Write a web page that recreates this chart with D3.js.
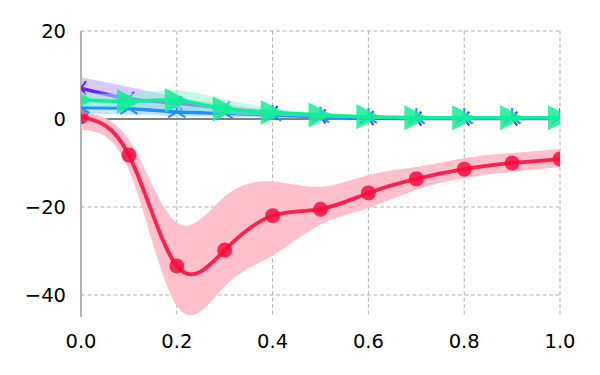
<!DOCTYPE html>
<html>
<head>
<meta charset="utf-8">
<script src="https://cdn.jsdelivr.net/npm/d3@7"></script>
<style>
	body { margin: 0; background: white; }
	text { font-family: "DejaVu Sans", sans-serif; }
</style>
</head>
<body>
<div id="chart"></div>
<script>
// Data
var xs = [0, 0.1, 0.2, 0.3, 0.4, 0.5, 0.6, 0.7, 0.8, 0.9, 1.0];
var xTicks = [0, 0.2, 0.4, 0.6, 0.8, 1.0];
var yTicks = [20, 0, -20, -40];

var redMean = [0.5, -8.2, -33.4, -29.8, -22, -20.5, -16.8, -13.6, -11.4, -10, -9.1];
var redHi = [1.5, -4.8, -23.6, -17.6, -14.2, -15.4, -12.7, -10.9, -8.9, -7.7, -6.8];
var redLo = [-2.5, -11.6, -42.5, -38, -31, -24, -20.2, -16.1, -13.4, -12, -10.9];

var purpleMean = [7.0, 4.6, 3.6, 2.4, 1.4, 0.6, 0.2, 0.1, 0.1, 0.1, 0.1];
var purpleHi = [9.5, 7.3, 5.0, 3.3, 2.0, 1.0, 0.5, 0.3, 0.3, 0.3, 0.3];
var purpleLo = [5.0, 3.0, 2.3, 1.5, 0.8, 0.2, -0.1, -0.1, -0.1, -0.1, -0.1];

var blueMean = [2.6, 2.4, 1.6, 1.3, 0.9, 0.5, 0.3, 0.2, 0.2, 0.2, 0.2];
var blueHi = [4.0, 3.6, 3.0, 2.2, 1.5, 0.9, 0.6, 0.5, 0.5, 0.5, 0.5];
var blueLo = [1.2, 1.0, 0.6, 0.5, 0.3, 0.1, 0.0, -0.1, -0.1, -0.1, -0.1];

var greenMean = [4.3, 4.0, 4.2, 2.3, 1.5, 0.9, 0.5, 0.3, 0.3, 0.3, 0.3];
var greenHi = [6.0, 5.8, 6.5, 4.5, 2.4, 1.4, 0.8, 0.5, 0.5, 0.5, 0.5];
var greenLo = [2.8, 2.6, 2.5, 1.2, 0.8, 0.4, 0.1, 0.1, 0.1, 0.1, 0.1];

// Canvas
var width = 600, height = 375;
var plot = { left: 81, right: 560, top: 31, bottom: 317 };

var x = d3.scaleLinear().domain([0, 1]).range([plot.left, plot.right]);
var y = d3.scaleLinear().domain([-45, 20]).range([plot.bottom, plot.top]);

var svg = d3.select("#chart")
	.append("svg")
	.attr("width", width)
	.attr("height", height);

svg.append("clipPath")
	.attr("id", "clip")
	.append("rect")
	.attr("x", plot.left)
	.attr("y", plot.top)
	.attr("width", plot.right - plot.left)
	.attr("height", plot.bottom - plot.top);

// Grid
var grid = svg.append("g");
grid.selectAll("vgrid")
	.data(xTicks.slice(1))
	.enter()
	.append("line")
	.attr("x1", function(d) { return x(d); })
	.attr("x2", function(d) { return x(d); })
	.attr("y1", plot.top)
	.attr("y2", plot.bottom)
	.attr("stroke", "#a8a8a8")
	.attr("stroke-width", 0.9)
	.attr("stroke-dasharray", "4,2.5");
grid.selectAll("hgrid")
	.data(yTicks)
	.enter()
	.append("line")
	.attr("x1", plot.left)
	.attr("x2", plot.right)
	.attr("y1", function(d) { return y(d); })
	.attr("y2", function(d) { return y(d); })
	.attr("stroke", "#a8a8a8")
	.attr("stroke-width", 0.9)
	.attr("stroke-dasharray", "4,2.5");

// Zero line and left spine
svg.append("line")
	.attr("x1", plot.left).attr("x2", plot.right)
	.attr("y1", y(0)).attr("y2", y(0))
	.attr("stroke", "#808080")
	.attr("stroke-width", 2);
svg.append("line")
	.attr("x1", plot.left).attr("x2", plot.left)
	.attr("y1", plot.top).attr("y2", plot.bottom)
	.attr("stroke", "#808080")
	.attr("stroke-width", 1.2);

// Tick labels
svg.selectAll("xlabel")
	.data(xTicks)
	.enter()
	.append("text")
	.text(function(d) { return d.toFixed(1); })
	.attr("x", function(d) { return x(d); })
	.attr("y", 348)
	.attr("text-anchor", "middle")
	.attr("font-size", "19.5px")
	.attr("fill", "black");
svg.selectAll("ylabel")
	.data(yTicks)
	.enter()
	.append("text")
	.text(function(d) { return d < 0 ? "\u2212" + Math.abs(d) : d; })
	.attr("x", plot.left - 15)
	.attr("y", function(d) { return y(d) + 7; })
	.attr("text-anchor", "end")
	.attr("font-size", "19.5px")
	.attr("fill", "black");

var layer = svg.append("g").attr("clip-path", "url(#clip)");

// Draw one series: band, line, markers
function drawSeries(mean, lo, hi, color, bandColor, bandOpacity, lineWidth, marker) {
	var band = d3.area()
		.x(function(d, i) { return x(xs[i]); })
		.y0(function(d, i) { return y(lo[i]); })
		.y1(function(d, i) { return y(hi[i]); })
		.curve(d3.curveNatural);
	var line = d3.line()
		.x(function(d, i) { return x(xs[i]); })
		.y(function(d) { return y(d); })
		.curve(d3.curveNatural);
	layer.append("path")
		.datum(mean)
		.attr("d", band)
		.attr("fill", bandColor)
		.attr("opacity", bandOpacity);
	layer.append("path")
		.datum(mean)
		.attr("d", line)
		.attr("fill", "none")
		.attr("stroke", color)
		.attr("stroke-width", lineWidth);
	var pts = layer.selectAll("marker")
		.data(mean)
		.enter()
		.append("g")
		.attr("transform", function(d, i) {
			return "translate(" + x(xs[i]) + "," + y(d) + ")";
		});
	if (marker === "circle") {
		pts.append("circle")
			.attr("r", 7.5)
			.attr("fill", "#ff0a3c")
			.attr("opacity", 0.85);
	} else if (marker === "tri_down") {
		pts.append("path")
			.attr("d", "M0,0L0,-10M0,0L8.5,5.5M0,0L-8.5,5.5")
			.attr("fill", "none")
			.attr("stroke", color)
			.attr("stroke-width", 2);
	} else if (marker === "tri_left") {
		pts.append("path")
			.attr("d", "M0,0L-8,0M0,0L5,-7M0,0L5,7")
			.attr("fill", "none")
			.attr("stroke", color)
			.attr("stroke-width", 2);
	} else if (marker === "triangle_right") {
		pts.append("path")
			.attr("d", "M12,0L-12,-12.5L-12,12.5Z")
			.attr("fill", color)
			.attr("opacity", 0.85);
	}
}

drawSeries(redMean, redLo, redHi, "#ff2050", "#ffc0cb", 1, 3.8, "circle");
drawSeries(purpleMean, purpleLo, purpleHi, "#6b24ff", "#b89cff", 0.55, 3.5, "tri_left");
drawSeries(blueMean, blueLo, blueHi, "#1f8fff", "#8cc8ff", 0.5, 3.5, "tri_down");
drawSeries(greenMean, greenLo, greenHi, "#10ef95", "#8ff5cf", 0.55, 3.5, "triangle_right");
</script>
</body>
</html>
